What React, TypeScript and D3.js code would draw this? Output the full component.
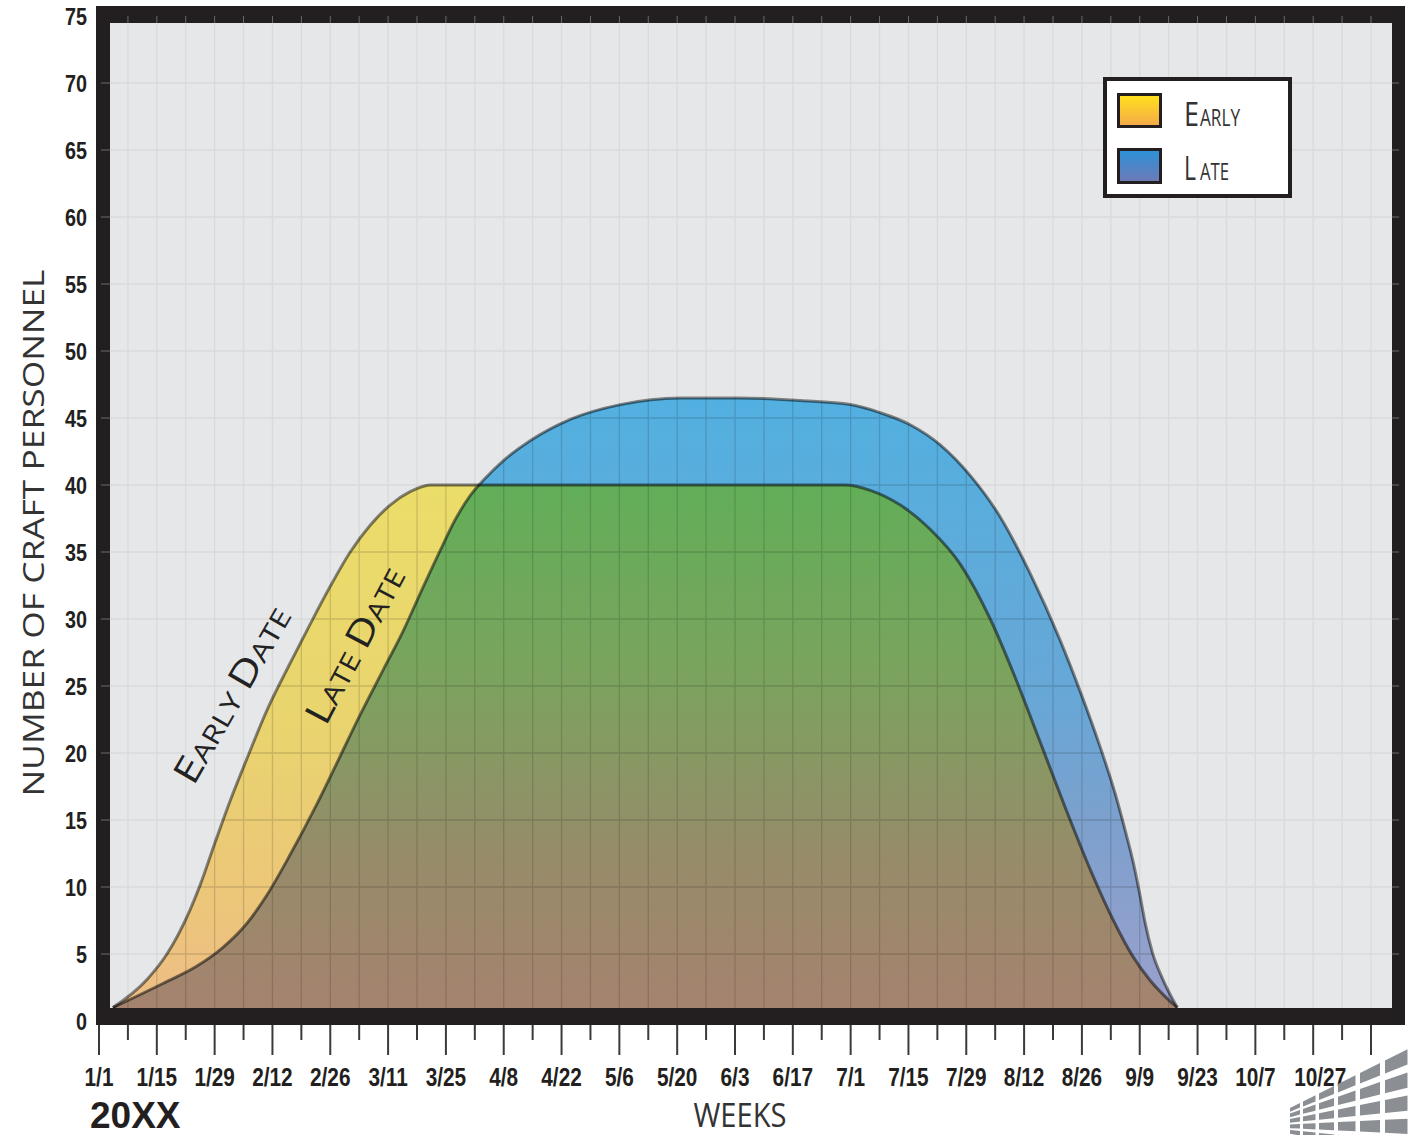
import React from 'react';
import * as d3 from 'd3';

// ---------- DATA ----------
const WEEK_LABELS = ['1/1', '1/15', '1/29', '2/12', '2/26', '3/11', '3/25', '4/8', '4/22', '5/6', '5/20', '6/3', '6/17', '7/1', '7/15', '7/29', '8/12', '8/26', '9/9', '9/23', '10/7', '10/27'];
const Y_TICKS = [0, 5, 10, 15, 20, 25, 30, 35, 40, 45, 50, 55, 60, 65, 70, 75];
const SERIES_NAMES = ['EARLY', 'LATE'];

// week index (0 = 1/1) and number of craft personnel
const EARLY_WEEKS = [0.48, 1.66, 2.35, 3.15, 3.49, 4.01, 4.53, 5.12, 5.81, 6.61, 7.30, 7.99, 8.69, 9.38, 10.07, 10.76, 11.45, 25.81, 26.68, 27.72, 28.75, 29.79, 30.83, 31.70, 32.56, 33.43, 34.29, 35.09, 35.74, 36.37, 36.89, 37.30];
const EARLY_VALUES = [1.0, 3.1, 5.0, 8.3, 10.1, 13.3, 16.4, 19.6, 23.2, 26.7, 29.6, 32.4, 35.0, 37.0, 38.5, 39.5, 40.0, 40.0, 39.6, 38.5, 36.7, 34.1, 30.0, 25.6, 20.8, 15.9, 11.3, 7.5, 4.9, 3.0, 1.8, 1.0];

const LATE_WEEKS = [0.48, 2.21, 3.39, 4.29, 5.12, 5.81, 6.61, 7.54, 8.24, 8.93, 9.83, 10.52, 11.11, 11.80, 12.32, 12.84, 13.36, 13.98, 14.91, 16.30, 18.03, 20.10, 22.18, 24.26, 25.99, 27.02, 28.06, 29.10, 30.14, 31.18, 32.21, 33.25, 33.94, 34.64, 35.16, 35.50, 35.78, 35.99, 36.19, 36.44, 36.78, 37.30];
const LATE_VALUES = [1.0, 2.8, 4.1, 5.5, 7.3, 9.4, 12.4, 16.2, 19.3, 22.4, 26.2, 29.1, 31.9, 35.1, 37.4, 39.2, 40.5, 41.8, 43.3, 44.9, 46.0, 46.5, 46.5, 46.3, 46.0, 45.4, 44.5, 43.0, 40.7, 37.6, 33.4, 28.4, 24.6, 20.4, 16.9, 14.2, 11.8, 9.6, 7.3, 5.1, 3.2, 1.0];

type Pt = { w: number; v: number };

const SANS = "'Liberation Sans', Arial, sans-serif";
const LIGHT = "'Open Sans', 'Noto Sans', sans-serif";

function Logo() {
  const tiles: string[] = [];
  const base = (xx: number) => 1108 - (xx - 1290) * 0.5;
  const rh = (xx: number) => 5.5 + (xx - 1290) * 0.15;
  let xa = 1290;
  for (let k = 0; k < 7; k++) {
    const w = 10 + 2.5 * k;
    const xb = xa + w;
    for (let r = 0; r < 10; r++) {
      const tA = base(xa) + r * rh(xa);
      const tB = base(xb) + r * rh(xb);
      const hA = rh(xa) * 0.66;
      const hB = rh(xb) * 0.66;
      if (tA > 1140 && tB > 1140) continue;
      tiles.push(`M${xa},${tA}L${xb},${tB}L${xb},${tB + hB}L${xa},${tA + hA}Z`);
    }
    xa = xb + 3 + 0.5 * k;
  }
  return (
    <g fill="#8b8f93">
      {tiles.map((d, i) => <path key={i} d={d} />)}
    </g>
  );
}

export default function App() {
  const W = 1410, H = 1135;
  const frame = { x0: 96, y0: 6, x1: 1405, y1: 1025 };
  const plot = { x0: 110, y0: 23, x1: 1392, y1: 1008 };

  const x = d3.scaleLinear().domain([0, 44]).range([99, 1371]);
  const y = d3.scaleLinear().domain([0, 75]).range([1021, 16]);

  const early: Pt[] = EARLY_WEEKS.map((w, i) => ({ w, v: EARLY_VALUES[i] }));
  const late: Pt[] = LATE_WEEKS.map((w, i) => ({ w, v: LATE_VALUES[i] }));

  const area = d3.area<Pt>().x(d => x(d.w)).y0(plot.y1).y1(d => y(d.v)).curve(d3.curveMonotoneX);
  const line = d3.line<Pt>().x(d => x(d.w)).y(d => y(d.v)).curve(d3.curveMonotoneX);

  const earlyArea = area(early) || '';
  const lateArea = area(late) || '';

  const weeks = d3.range(0, 45);
  const gridWeeks = weeks.filter(w => x(w) > plot.x0 && x(w) < plot.x1);
  const gridVals = Y_TICKS.filter(v => y(v) > plot.y0 && y(v) < plot.y1);

  return (
    <svg width={W} height={H} style={{ position: 'absolute', left: 0, top: 0, background: '#fff' }}>
      <defs>
        <clipPath id="plotClip">
          <rect x={plot.x0} y={plot.y0} width={plot.x1 - plot.x0} height={plot.y1 - plot.y0} />
        </clipPath>
        <clipPath id="earlyClip">
          <path d={earlyArea} />
        </clipPath>
        <linearGradient id="earlyGrad" gradientUnits="userSpaceOnUse" x1="0" y1={y(40)} x2="0" y2={plot.y1}>
          <stop offset="0" stopColor="#ebdd6a" />
          <stop offset="0.45" stopColor="#e9d46e" />
          <stop offset="0.8" stopColor="#ecc67a" />
          <stop offset="1" stopColor="#eebd86" />
        </linearGradient>
        <linearGradient id="lateGrad" gradientUnits="userSpaceOnUse" x1="0" y1={y(46.5)} x2="0" y2={plot.y1}>
          <stop offset="0" stopColor="#52b0e0" />
          <stop offset="0.5" stopColor="#68a7d6" />
          <stop offset="0.7" stopColor="#7da0cd" />
          <stop offset="1" stopColor="#9ca0cc" />
        </linearGradient>
        <linearGradient id="overlapGrad" gradientUnits="userSpaceOnUse" x1="0" y1={y(40)} x2="0" y2={plot.y1}>
          <stop offset="0" stopColor="#62ae58" />
          <stop offset="0.35" stopColor="#7aa45e" />
          <stop offset="0.7" stopColor="#968c69" />
          <stop offset="1" stopColor="#a5836f" />
        </linearGradient>
        <linearGradient id="legEarly" x1="0" y1="0" x2="0" y2="1">
          <stop offset="0" stopColor="#ffe21a" />
          <stop offset="1" stopColor="#f4a84c" />
        </linearGradient>
        <linearGradient id="legLate" x1="0" y1="0" x2="0" y2="1">
          <stop offset="0" stopColor="#2b91d8" />
          <stop offset="1" stopColor="#6f7ab6" />
        </linearGradient>
      </defs>

      {/* frame */}
      <rect x={frame.x0} y={frame.y0} width={frame.x1 - frame.x0} height={frame.y1 - frame.y0} fill="#231f20" />
      <rect x={plot.x0} y={plot.y0} width={plot.x1 - plot.x0} height={plot.y1 - plot.y0} fill="#e6e7e9" />

      {/* frame ticks */}
      <g stroke="#6a6a6a" strokeWidth={1}>
        {gridVals.map(v => <line key={'lt' + v} x1={101} x2={plot.x0} y1={y(v)} y2={y(v)} />)}
        {gridVals.map(v => <line key={'rt' + v} x1={plot.x1} x2={plot.x1 + 7} y1={y(v)} y2={y(v)} />)}
        {gridWeeks.map(w => <line key={'tt' + w} x1={x(w)} x2={x(w)} y1={16} y2={plot.y0} />)}
      </g>

      <g clipPath="url(#plotClip)">
        {/* fills */}
        <path d={earlyArea} fill="url(#earlyGrad)" />
        <path d={lateArea} fill="url(#lateGrad)" />
        <path d={lateArea} fill="url(#overlapGrad)" clipPath="url(#earlyClip)" />

        {/* grid */}
        <g stroke="#dadada" strokeWidth={1.3} style={{ mixBlendMode: 'multiply' }}>
          {gridWeeks.map(w => <line key={'gw' + w} x1={x(w)} x2={x(w)} y1={plot.y0} y2={plot.y1} />)}
          {gridVals.map(v => <line key={'gv' + v} x1={plot.x0} x2={plot.x1} y1={y(v)} y2={y(v)} />)}
        </g>

        {/* outlines */}
        <path d={line(early) || ''} fill="none" stroke="#808080" strokeWidth={3} style={{ mixBlendMode: 'multiply' }} />
        <path d={line(late) || ''} fill="none" stroke="#808080" strokeWidth={3} style={{ mixBlendMode: 'multiply' }} />
      </g>

      {/* curve labels */}
      <text transform="translate(243,701) rotate(-60)" textAnchor="middle" fontFamily={LIGHT} fill="#222" textLength={198} lengthAdjust="spacingAndGlyphs">
        <tspan fontSize={36}>E</tspan><tspan fontSize={26}>ARLY </tspan><tspan fontSize={36}>D</tspan><tspan fontSize={26}>ATE</tspan>
      </text>
      <text transform="translate(366,651) rotate(-62)" textAnchor="middle" fontFamily={LIGHT} fill="#222" textLength={172} lengthAdjust="spacingAndGlyphs">
        <tspan fontSize={36}>L</tspan><tspan fontSize={26}>ATE </tspan><tspan fontSize={36}>D</tspan><tspan fontSize={26}>ATE</tspan>
      </text>

      {/* y axis labels */}
      <g fontFamily={SANS} fontWeight="bold" fontSize={23} fill="#231f20" textAnchor="end">
        {Y_TICKS.map(v => (
          <text key={'yl' + v} transform={`translate(87,${y(v) + 9}) scale(0.86,1)`}>{v}</text>
        ))}
      </g>
      <text transform="translate(44,533) rotate(-90)" textAnchor="middle" fontFamily={LIGHT} fontSize={29} fill="#333" textLength={527} lengthAdjust="spacingAndGlyphs">
        NUMBER OF CRAFT PERSONNEL
      </text>

      {/* x axis ticks */}
      <g stroke="#3a3a3a" strokeWidth={2}>
        {weeks.map(w => <line key={'xt' + w} x1={x(w)} x2={x(w)} y1={frame.y1} y2={w % 2 === 0 ? 1055 : 1040} />)}
      </g>
      <g fontFamily={SANS} fontWeight="bold" fontSize={26} fill="#231f20" textAnchor="middle">
        {WEEK_LABELS.map((lab, i) => (
          <text key={'xl' + i} transform={`translate(${x(i * 2) + (i === WEEK_LABELS.length - 1 ? 7 : 0)},1086) scale(0.8,1)`}>{lab}</text>
        ))}
      </g>
      <text x={90} y={1128} fontFamily={SANS} fontWeight="bold" fontSize={37} fill="#231f20">20XX</text>
      <text x={740} y={1127} textAnchor="middle" fontFamily={LIGHT} fontSize={32} fill="#333" textLength={93} lengthAdjust="spacingAndGlyphs">WEEKS</text>

      {/* legend */}
      <rect x={1105} y={79} width={185} height={117} fill="#fff" stroke="#231f20" strokeWidth={4} />
      <rect x={1118.5} y={94.5} width={42} height={32} fill="url(#legEarly)" stroke="#231f20" strokeWidth={3} />
      <rect x={1118.5} y={149.5} width={42} height={33} fill="url(#legLate)" stroke="#231f20" strokeWidth={3} />
      <g fontFamily={LIGHT} fill="#333">
        <text x={1184} y={126} fontSize={33} textLength={15} lengthAdjust="spacingAndGlyphs">{SERIES_NAMES[0][0]}</text>
        <text x={1200} y={126} fontSize={23} textLength={40} lengthAdjust="spacingAndGlyphs">{SERIES_NAMES[0].slice(1)}</text>
        <text x={1184} y={180} fontSize={33} textLength={12} lengthAdjust="spacingAndGlyphs">{SERIES_NAMES[1][0]}</text>
        <text x={1200} y={180} fontSize={23} textLength={29} lengthAdjust="spacingAndGlyphs">{SERIES_NAMES[1].slice(1)}</text>
      </g>

      <Logo />
    </svg>
  );
}
